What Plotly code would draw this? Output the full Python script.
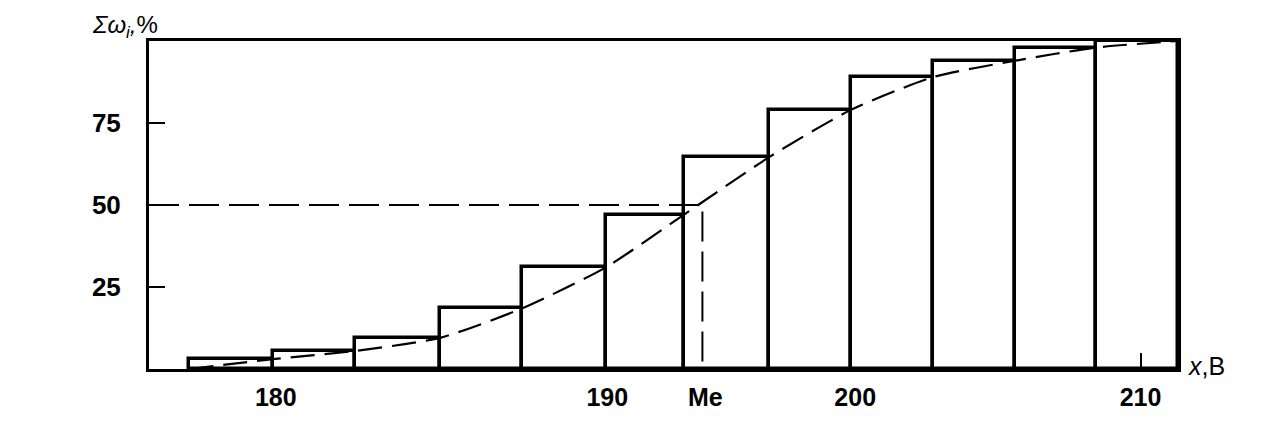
import plotly.graph_objects as go

# ---- data ----
bin_edges = [177.0, 179.9, 182.75, 185.7, 188.55, 191.45, 194.15,
             197.1, 199.95, 202.8, 205.65, 208.45, 211.3]
cum_pct = [3, 5.5, 9.5, 18.5, 31, 47, 64.5, 79, 89, 94, 98, 100]
median_x = 194.8
median_level = 50
x_tick_vals = [180, 191.5, 194.9, 200.1, 210]
x_tick_text = ["180", "190", "Me", "200", "210"]
y_tick_vals = [25, 50, 75]
y_tick_text = ["25", "50", "75"]
x_min = 175.6

centers = [(a + b) / 2 for a, b in zip(bin_edges[:-1], bin_edges[1:])]
widths = [b - a for a, b in zip(bin_edges[:-1], bin_edges[1:])]
x_max = bin_edges[-1]

FONT = "Liberation Sans, Arial, sans-serif"

fig = go.Figure()

fig.add_trace(go.Bar(
    x=centers, y=cum_pct, width=widths, base=0,
    marker=dict(color="white", line=dict(color="black", width=3.5)),
    showlegend=False, hoverinfo="skip",
))

# cumulative curve (ogive)
fig.add_trace(go.Scatter(
    x=bin_edges, y=[0] + cum_pct, mode="lines",
    line=dict(color="black", width=2.2, dash="24px,10px", shape="spline", smoothing=0.6),
    showlegend=False, hoverinfo="skip",
))

# median construction
fig.add_trace(go.Scatter(
    x=[x_min, median_x, median_x], y=[median_level, median_level, 0], mode="lines",
    line=dict(color="black", width=2, dash="30px,10px"),
    showlegend=False, hoverinfo="skip",
))

# helper trace for overlay axis carrying the 210 tick
fig.add_trace(go.Scatter(
    x=[x_min, x_max], y=[None, None], xaxis="x2", mode="lines",
    showlegend=False, hoverinfo="skip",
))

fig.update_layout(
    width=1279, height=423,
    margin=dict(l=141, r=109, t=33, b=62, autoexpand=False),
    paper_bgcolor="white", plot_bgcolor="white",
    bargap=0,
    font=dict(family=FONT, color="black"),
    xaxis=dict(
        range=[x_min, x_max], showgrid=False, zeroline=False, automargin=False,
        showline=True, linecolor="black", linewidth=3, mirror=True,
        tickmode="array", tickvals=x_tick_vals, ticktext=x_tick_text,
        ticks="", ticklabelstandoff=4,
        tickfont=dict(family=FONT, size=25, color="black", weight="bold"),
    ),
    xaxis2=dict(
        range=[x_min, x_max], overlaying="x", anchor="y", side="bottom",
        showgrid=False, zeroline=False, showline=False, automargin=False,
        tickmode="array", tickvals=[210], ticks="inside", ticklen=16,
        tickwidth=2, tickcolor="black", showticklabels=False,
    ),
    yaxis=dict(
        range=[0, 100], showgrid=False, zeroline=False, automargin=False,
        showline=True, linecolor="black", linewidth=3, mirror=True,
        tickmode="array", tickvals=y_tick_vals, ticktext=y_tick_text,
        ticks="inside", ticklen=16, tickwidth=2, tickcolor="black",
        ticklabelstandoff=20,
        tickfont=dict(family=FONT, size=26, color="black", weight="bold"),
    ),
    annotations=[
        dict(text="<i>Σω<sub>i</sub>,</i>%", xref="paper", yref="paper",
             x=0, y=1.0, xanchor="right", yanchor="bottom", xshift=11, yshift=-3,
             showarrow=False,
             font=dict(family=FONT, size=24, color="black")),
        dict(text="<i>x</i>,B", xref="paper", yref="paper",
             x=1.008, y=0.0, xanchor="left", yanchor="middle", yshift=3,
             showarrow=False,
             font=dict(family=FONT, size=25, color="black")),
    ],
)

fig.write_html("out.html")
